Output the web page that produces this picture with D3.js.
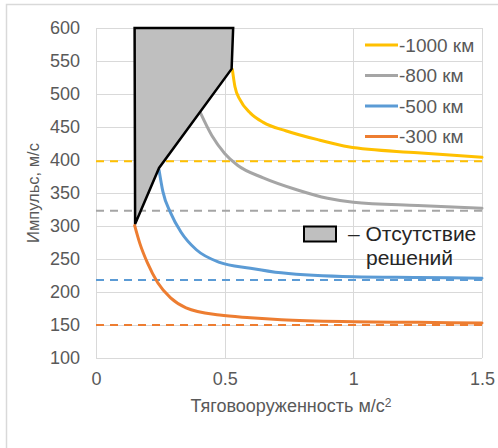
<!DOCTYPE html>
<html>
<head>
<meta charset="utf-8">
<script src="https://cdn.jsdelivr.net/npm/d3@7"></script>
<style>
    html, body { margin: 0; padding: 0; background: #fff; }
    svg { display: block; font-family: "Liberation Sans", Arial, sans-serif; }
</style>
</head>
<body>
<div id="chart"></div>
<script>
// Data
const seriesNames = ["-1000 км", "-800 км", "-500 км", "-300 км"];
const seriesColours = ["#FFC000", "#A5A5A5", "#5B9BD5", "#ED7D31"];

const x1000 = [0.53, 0.54, 0.56, 0.60, 0.65, 0.74, 0.87, 0.98, 1.25, 1.5];
const y1000 = [537, 511, 491, 471, 457, 444, 430, 420, 411, 404];

const x800 = [0.405, 0.45, 0.5, 0.55, 0.65, 0.78, 0.9, 1.0, 1.25, 1.5];
const y800 = [472, 437, 410, 392, 373, 355, 342, 336, 331, 327];

const x500 = [0.245, 0.26, 0.29, 0.33, 0.39, 0.48, 0.6, 0.72, 1.0, 1.25, 1.5];
const y500 = [385, 352, 320, 291, 264, 245, 236, 229, 223, 222, 221];

const x300 = [0.15, 0.17, 0.2, 0.24, 0.29, 0.35, 0.48, 0.6, 0.72, 1.0, 1.25, 1.5];
const y300 = [301, 274, 244, 214, 191, 176, 165, 161, 158, 155, 154, 153];

// horizontal dashed limits, one per series
const limits = [398, 323, 218, 150];

// "no solution" region outline
const regionX = [0.15, 0.533, 0.527, 0.245, 0.152];
const regionY = [600, 600, 538, 388, 303];

const xTicks = [0, 0.5, 1, 1.5];
const yTicks = [100, 150, 200, 250, 300, 350, 400, 450, 500, 550, 600];
const xTickLabels = ["0", "0.5", "1", "1.5"];

const xTitle = "Тяговооруженность м/с";
const yTitle = "Импульс, м/с";
const regionLabel = ["Отсутствие", "решений"];

const svgWidth = 498,
    svgHeight = 448,
    margin = { top: 28, left: 96, right: 16, bottom: 90 },
    width = svgWidth - margin.left - margin.right,
    height = svgHeight - margin.top - margin.bottom,
    textGrey = "#595959",
    gridGrey = "#D9D9D9";

const series = [
    { name: seriesNames[0], xs: x1000, ys: y1000 },
    { name: seriesNames[1], xs: x800, ys: y800 },
    { name: seriesNames[2], xs: x500, ys: y500 },
    { name: seriesNames[3], xs: x300, ys: y300 },
];

let svg = d3.select("#chart").append("svg")
    .attr("width", svgWidth)
    .attr("height", svgHeight);

// chart area frame
svg.append("rect")
    .attr("x", 6.5)
    .attr("y", 4.5)
    .attr("width", 700)
    .attr("height", 700)
    .attr("fill", "#fff")
    .attr("stroke", gridGrey)
    .attr("stroke-width", 1.5);

let xAxis = d3.scaleLinear().domain([0, 1.5]).range([0, width]),
    yAxis = d3.scaleLinear().domain([100, 600]).range([height, 0]);

let plot = svg.append("g")
    .attr("transform", `translate(${margin.left},${margin.top})`);

// grid
plot.append("g")
    .attr("class", "grid grid--y")
    .call(d3.axisLeft(yAxis).tickValues(yTicks).tickSize(-width).tickFormat(""))
    .call(g => g.select(".domain").remove())
    .selectAll("line")
    .attr("stroke", gridGrey)
    .attr("shape-rendering", "crispEdges");

plot.append("g")
    .attr("class", "grid grid--x")
    .attr("transform", `translate(0,${height})`)
    .call(d3.axisBottom(xAxis).tickValues(xTicks).tickSize(-height).tickFormat(""))
    .call(g => g.select(".domain").remove())
    .selectAll("line")
    .attr("stroke", gridGrey)
    .attr("shape-rendering", "crispEdges");

// tick labels
plot.append("g")
    .attr("class", "axis axis--y")
    .call(d3.axisLeft(yAxis).tickValues(yTicks).tickSize(0).tickPadding(16))
    .call(g => g.select(".domain").remove())
    .selectAll("text")
    .attr("fill", textGrey)
    .style("font-size", "18px")
    .style("font-family", "Liberation Sans, Arial, sans-serif");

plot.append("g")
    .attr("class", "axis axis--x")
    .attr("transform", `translate(0,${height})`)
    .call(d3.axisBottom(xAxis).tickValues(xTicks).tickSize(0).tickPadding(14)
        .tickFormat((d, i) => xTickLabels[i]))
    .call(g => g.select(".domain").remove())
    .selectAll("text")
    .attr("fill", textGrey)
    .style("font-size", "18px")
    .style("font-family", "Liberation Sans, Arial, sans-serif");

// dashed limits
plot.append("g")
    .attr("class", "limits")
    .selectAll("line")
    .data(limits)
    .enter()
    .append("line")
    .attr("x1", 0)
    .attr("x2", width)
    .attr("y1", d => yAxis(d))
    .attr("y2", d => yAxis(d))
    .attr("stroke", (d, i) => seriesColours[i])
    .attr("stroke-width", 2)
    .attr("stroke-dasharray", "8,6");

// curves
let line = d3.line()
    .x(d => xAxis(d[0]))
    .y(d => yAxis(d[1]))
    .curve(d3.curveMonotoneX);

plot.append("g")
    .attr("class", "series")
    .selectAll("path")
    .data(series)
    .enter()
    .append("path")
    .attr("d", s => line(s.xs.map((x, i) => [x, s.ys[i]])))
    .attr("fill", "none")
    .attr("stroke", (s, i) => seriesColours[i])
    .attr("stroke-width", 3)
    .attr("stroke-linecap", "round");

// no-solution region
plot.append("path")
    .attr("d", d3.line().x(d => xAxis(d[0])).y(d => yAxis(d[1]))(regionX.map((x, i) => [x, regionY[i]])) + "Z")
    .attr("fill", "#BFBFBF")
    .attr("stroke", "#000")
    .attr("stroke-width", 2.5)
    .attr("stroke-linejoin", "miter");

// legend
let legend = svg.append("g")
    .attr("class", "legend")
    .attr("transform", "translate(365,45)");

series.forEach((s, i) => {
    let row = legend.append("g")
        .attr("transform", `translate(0,${i * 30.5})`);
    row.append("line")
        .attr("x1", 0)
        .attr("x2", 33)
        .attr("stroke", seriesColours[i])
        .attr("stroke-width", 3);
    row.append("text")
        .attr("x", 34)
        .attr("dy", "0.35em")
        .attr("fill", textGrey)
        .style("font-size", "19px")
        .text(s.name);
});

let regionLegend = svg.append("g")
    .attr("class", "legend legend--region");

regionLegend.append("rect")
    .attr("x", 304)
    .attr("y", 226.5)
    .attr("width", 32)
    .attr("height", 15)
    .attr("fill", "#BFBFBF")
    .attr("stroke", "#000")
    .attr("stroke-width", 2);

regionLegend.append("text")
    .attr("x", 348)
    .attr("y", 241)
    .attr("fill", "#262626")
    .style("font-size", "21px")
    .text("– " + regionLabel[0]);

regionLegend.append("text")
    .attr("x", 366)
    .attr("y", 265)
    .attr("fill", "#262626")
    .style("font-size", "21px")
    .text(regionLabel[1]);

// axis titles
let xTitleText = svg.append("text")
    .attr("x", margin.left + width / 2 + 2)
    .attr("y", 412)
    .attr("text-anchor", "middle")
    .attr("fill", textGrey)
    .style("font-size", "18px")
    .text(xTitle);
xTitleText.append("tspan")
    .attr("dy", "-0.45em")
    .style("font-size", "12px")
    .text("2");

svg.append("text")
    .attr("transform", "rotate(-90)")
    .attr("x", -(margin.top + height / 2))
    .attr("y", 39)
    .attr("text-anchor", "middle")
    .attr("fill", textGrey)
    .style("font-size", "16.5px")
    .text(yTitle);
</script>
</body>
</html>
